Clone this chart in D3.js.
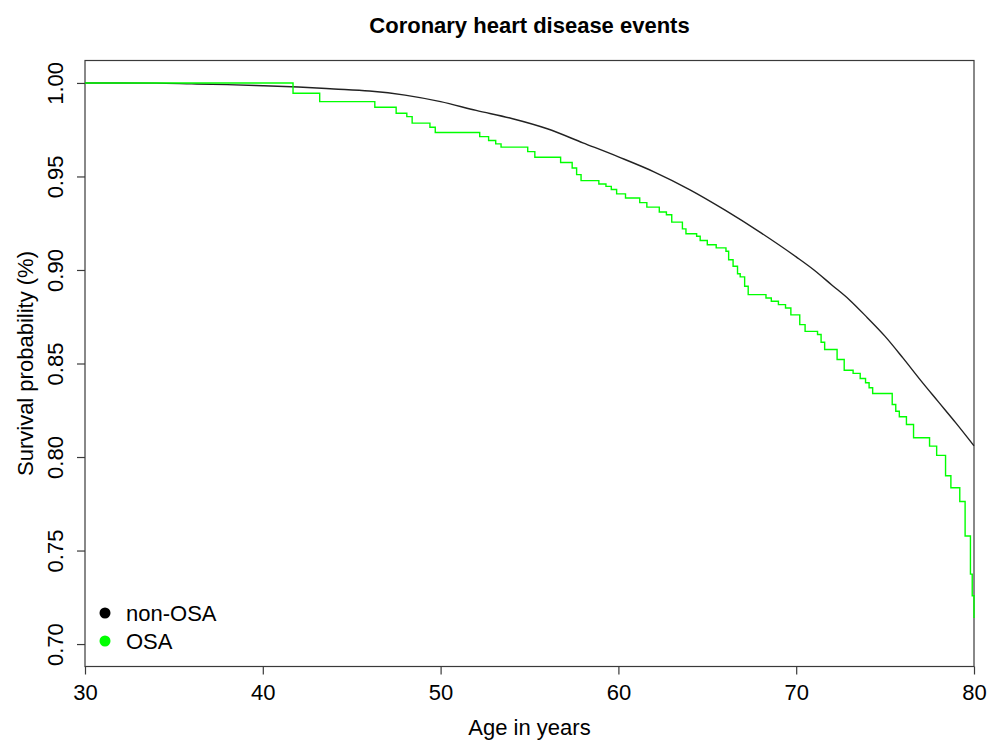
<!DOCTYPE html>
<html>
<head>
<meta charset="utf-8">
<script src="https://cdn.jsdelivr.net/npm/d3@7"></script>
<style>
  html, body { margin: 0; padding: 0; background: #fff; }
  svg { display: block; font-family: "Liberation Sans", Arial, Helvetica, sans-serif; }
</style>
</head>
<body>
<svg id="chart" width="989" height="740"></svg>
<script>
// Kaplan–Meier survival estimates, coronary heart disease events by age
const chartTitle = "Coronary heart disease events";
const xLabel = "Age in years";
const yLabel = "Survival probability (%)";

const xTicks = [30, 40, 50, 60, 70, 80];
const yTicks = [0.70, 0.75, 0.80, 0.85, 0.90, 0.95, 1.00];

const seriesNames = ["non-OSA", "OSA"];
const seriesColors = ["#000000", "#00ff00"];

// non-OSA: large group, curve is visually smooth
const nonOsaAge = [30, 34, 36, 38, 40, 42, 44, 46, 48, 50, 52, 54, 56, 58, 60, 62, 64, 66, 68, 70, 71, 72, 73, 74, 75, 76, 77, 78, 79, 80];
const nonOsaSurv = [1.0000, 0.9999, 0.9995, 0.9991, 0.9985, 0.9978, 0.9968, 0.9957, 0.9935, 0.9900, 0.9853, 0.9810, 0.9755, 0.9680, 0.9605, 0.9525, 0.9430, 0.9320, 0.9200, 0.9070, 0.9000, 0.8920, 0.8840, 0.8745, 0.8645, 0.8530, 0.8410, 0.8295, 0.8180, 0.8060];

// OSA: step function, survival holds from each event age onward
const osaAge = [30, 41.7, 43.2, 46.3, 47.5, 48.1, 48.4, 49.4, 49.7, 52.2, 52.7, 53.1, 53.4, 54.9, 55.3, 56.75, 57.4, 57.65, 57.9, 58.9, 59.3, 59.6, 59.9, 60.4, 61.2, 61.6, 62.3, 62.7, 63.0, 63.6, 63.8, 64.4, 64.6, 65.0, 65.5, 66.05, 66.2, 66.45, 66.7, 66.85, 67.1, 67.3, 68.3, 68.6, 69.0, 69.4, 69.7, 70.2, 70.5, 71.2, 71.4, 71.6, 72.3, 72.7, 73.2, 73.6, 73.9, 74.1, 74.3, 75.4, 75.6, 75.8, 76.2, 76.6, 77.5, 77.9, 78.4, 78.7, 79.2, 79.5, 79.8, 79.9, 80.0];
const osaSurv = [1.0000, 0.9945, 0.9900, 0.9870, 0.9838, 0.9820, 0.9785, 0.9763, 0.9735, 0.9713, 0.9692, 0.9674, 0.9657, 0.9633, 0.9603, 0.9575, 0.9545, 0.9510, 0.9478, 0.9460, 0.9447, 0.9430, 0.9407, 0.9385, 0.9360, 0.9336, 0.9310, 0.9295, 0.9256, 0.9220, 0.9194, 0.9180, 0.9158, 0.9135, 0.9118, 0.9100, 0.9055, 0.9020, 0.8980, 0.8963, 0.8913, 0.8868, 0.8850, 0.8833, 0.8815, 0.8797, 0.8760, 0.8708, 0.8672, 0.8655, 0.8614, 0.8575, 0.8521, 0.8464, 0.8447, 0.8420, 0.8397, 0.8370, 0.8340, 0.8281, 0.8245, 0.8215, 0.8174, 0.8103, 0.8058, 0.8009, 0.7900, 0.7836, 0.7762, 0.7578, 0.7374, 0.7258, 0.7139];

const svg = d3.select("#chart");

const plot = { left: 85, right: 974, top: 60.5, bottom: 666.5 };

const x = d3.scaleLinear().domain([30, 80]).range([plot.left, plot.right]);
// y limits padded 4% beyond 0.70–1.00
const y = d3.scaleLinear().domain([0.688, 1.012]).range([plot.bottom, plot.top]);

const axisColor = "#3a3a3a";
const fontSize = 22;

// plot box
svg.append("rect")
  .attr("x", plot.left).attr("y", plot.top)
  .attr("width", plot.right - plot.left).attr("height", plot.bottom - plot.top)
  .attr("fill", "none").attr("stroke", axisColor).attr("stroke-width", 1.2);

// x axis
const xAxis = svg.append("g")
  .attr("transform", `translate(0,${plot.bottom})`)
  .call(d3.axisBottom(x).tickValues(xTicks).tickFormat(d3.format("d")).tickSize(8).tickPadding(0));
xAxis.select(".domain").remove();
xAxis.selectAll(".tick line").attr("stroke", axisColor).attr("stroke-width", 1.2);
xAxis.selectAll(".tick text")
  .attr("fill", "#000").attr("font-size", fontSize)
  .attr("font-family", "Liberation Sans, Arial, sans-serif")
  .attr("dy", null).attr("y", 33);

// y axis, labels parallel to the axis
const yAxis = svg.append("g")
  .attr("transform", `translate(${plot.left},0)`)
  .call(d3.axisLeft(y).tickValues(yTicks).tickFormat(d3.format(".2f")).tickSize(8));
yAxis.select(".domain").remove();
yAxis.selectAll(".tick line").attr("stroke", axisColor).attr("stroke-width", 1.2);
yAxis.selectAll(".tick text")
  .attr("fill", "#000").attr("font-size", fontSize)
  .attr("font-family", "Liberation Sans, Arial, sans-serif")
  .attr("x", null).attr("dy", null)
  .attr("text-anchor", "middle")
  .attr("transform", "translate(-22,0) rotate(-90)");

// curves
const lineSmooth = d3.line()
  .x(d => x(d[0])).y(d => y(d[1]))
  .curve(d3.curveMonotoneX);
const lineStep = d3.line()
  .x(d => x(d[0])).y(d => y(d[1]))
  .curve(d3.curveStepAfter);

const nonOsa = nonOsaAge.map((a, i) => [a, nonOsaSurv[i]]);
const osa = osaAge.map((a, i) => [a, osaSurv[i]]);

svg.append("path")
  .datum(nonOsa)
  .attr("d", lineSmooth)
  .attr("fill", "none").attr("stroke", "#222").attr("stroke-width", 1.4);

svg.append("path")
  .datum(osa)
  .attr("d", lineStep)
  .attr("fill", "none").attr("stroke", seriesColors[1]).attr("stroke-width", 1.4);

// title
svg.append("text")
  .attr("x", (plot.left + plot.right) / 2).attr("y", 33)
  .attr("text-anchor", "middle")
  .attr("font-size", fontSize).attr("font-weight", "bold")
  .text(chartTitle);

// axis titles
svg.append("text")
  .attr("x", (plot.left + plot.right) / 2).attr("y", 735)
  .attr("text-anchor", "middle")
  .attr("font-size", fontSize)
  .text(xLabel);

svg.append("text")
  .attr("transform", `translate(33,${(plot.top + plot.bottom) / 2}) rotate(-90)`)
  .attr("text-anchor", "middle")
  .attr("font-size", fontSize)
  .text(yLabel);

// legend
const legend = svg.append("g").attr("transform", "translate(105,613)");
seriesNames.forEach((name, i) => {
  const g = legend.append("g").attr("transform", `translate(0,${i * 28})`);
  g.append("circle").attr("r", 5.5).attr("fill", seriesColors[i]);
  g.append("text").attr("x", 21).attr("y", 8)
    .attr("font-size", fontSize).attr("fill", "#000")
    .text(name);
});
</script>
</body>
</html>
